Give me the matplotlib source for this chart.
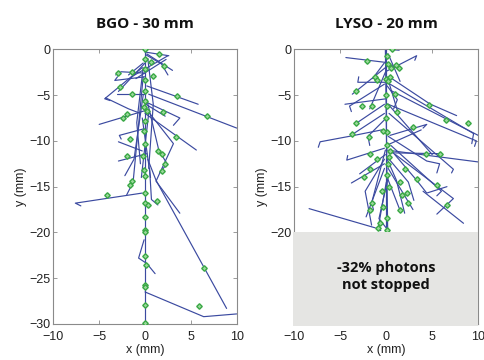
import matplotlib
matplotlib.use("Agg")
import matplotlib.pyplot as plt
from matplotlib.patches import Rectangle

# ---------------- data ----------------
titles = ["BGO - 30 mm", "LYSO - 20 mm"]
xticks = [-10, -5, 0, 5, 10]
bgo_yticks = [0, -5, -10, -15, -20, -25, -30]
lyso_yticks = [0, -5, -10, -15, -20]
note_text = "-32% photons\nnot stopped"

# BGO tracks (polylines, mm)
bgo_tracks_x = [
    [0, 0], [0, 2.6], [0.2, 3.0], [-1.3, 2.5], [-1.0, 2.3], [0.1, 1.8, 2.5],
    [0, -2.6, -3.2], [0, -3.3, -3.0], [-0.3, -4.4, -3.8], [-4.3, -1.8, -0.5],
    [0, -2.9], [-3.1, 0], [0.4, 10], [0.2, 5.8], [0.2, 3.8, 3.1], [0, 5.6],
    [0.2, 3.1, 1.2, 3.8], [0, -5.0], [-2.9, -0.3], [-2.9, 0.2],
    [-0.2, -1.3, -2.0], [0.3, 1.2, 8.9], [-0.3, -7.6, -7.0],
    [-0.1, -0.7, 0.2, 1.1], [0, 6.4, 10], [0.5, 0.7, 1.4],
    [0.2, 1.5, 2.4, 1.6], [-0.2, -1.2, -2.2], [-0.2, -2.8, -2.6], [0.1, 2.2],
    [-0.2, -1.8], [-0.3, 0.6], [0.4, -0.4], [0.3, 0.9, 0.4], [-0.2, -0.9, -0.5],
]
bgo_tracks_y = [
    [0, -30], [-0.3, -0.7], [-0.5, -2.3], [-2.9, -0.7], [-3.2, -1.1], [-0.6, -1.6, -2.8],
    [-2.6, -2.45, -2.8], [-3.0, -3.4, -3.0], [-2.0, -5.4, -5.6], [-5.3, -6.5, -7.0],
    [-1.5, -4.6], [-4.9, -4.9], [-4.9, -8.6], [-4.0, -6.0], [-5.8, -7.5, -8.3], [-7.0, -11.0],
    [-6.6, -10.3, -14.4, -17.9], [-6.7, -8.2], [-10.1, -11.1], [-12.2, -11.4],
    [-3.0, -14.5, -15.9], [-12.0, -14.3, -28.3], [-15.7, -16.8, -17.1],
    [-20.8, -22.8, -23.4, -24.5], [-26.5, -29.2, -28.9], [-13.0, -16.4, -17.0],
    [-5.5, -11.0, -12.5, -13.5], [-5.0, -12.0, -13.8], [-8.7, -9.4, -9.8], [-6.0, -7.3],
    [-1.5, -2.8], [-7.5, -14.0], [-7.0, -14.0], [-1.0, -6.0, -13.0], [-2.0, -8.0, -12.5],
]
bgo_dep_x = [0, 0, 0.05, 0, 0, 0.05, -0.1, 0.2, 0.05, -0.1, 0.05, -0.2, -0.1, 0,
             0, 0.05, 0, 0, 0, 0, 0.15, 0, 0, 0, 0,
             -1.45, 0.9, 2.1, -2.72, -1.45, 3.46, 2.0, 6.73, -1.99, -2.36, -1.63,
             3.39, 1.46, 1.82, -1.99, 2.19, 1.82, -1.45, -1.6, -4.1, 1.27, 0.37,
             6.48, 5.93, -3.0, 1.5, 0.6]
bgo_dep_y = [0, -1.05, -2.15, -3.4, -4.5, -5.6, -6.3, -6.7, -7.8, -8.9, -10.3, -11.6, -13.2, -13.8,
             -15.7, -16.8, -18.3, -19.7, -20.0, -22.6, -23.55, -25.7, -26.0, -27.9, -29.85,
             -2.5, -2.88, -1.8, -4.15, -4.88, -5.06, -6.9, -7.24, -7.06, -7.5, -9.79,
             -9.53, -11.07, -11.43, -11.6, -12.5, -13.25, -14.34, -14.8, -15.9, -16.6, -17.0,
             -23.84, -28.0, -2.6, -0.5, -1.4]

# LYSO tracks (polylines, mm)
lyso_tracks_x = [
    [0, 0], [-0.1, 0.15], [-4.4, -0.3], [0.3, 1.4], [0, 3.3, 3.1],
    [0.4, 4.75, 7.65], [0.4, 9.5, 9.3], [0.5, 10], [0.2, 9.8, 9.6],
    [0.4, 4.4, 4.0], [0, 3.8], [-7.4, -7.2, -4.0, -0.5], [-3.0, -3.1, 0],
    [-0.1, -3.7], [-0.2, -4.0, -3.8], [-4.5, 0], [-3.3, -0.2], [-3.7, -0.2],
    [0, -2.0, -1.8], [0.2, 5.0], [0.3, 7.3, 7.1], [0, 10], [0.2, 6.0],
    [0.2, 4.4, 5.8, 5.5], [0.5, 6.0, 5.5], [1.0, 7.3, 5.5], [4.0, 8.4],
    [0.5, 3.3, 4.4, 6.6], [-8.4, -1.2], [-0.2, -3.8], [-0.2, -2.2],
    [-0.1, -1.6, -1.4], [0, -0.9, -0.6], [0.1, 1.1, 2.0], [0.2, 2.9],
    [0.1, 1.5], [-0.2, -4.3, -4.2], [-0.1, -2.9], [0, -1.5], [0, 1.6],
    [0.2, 1.5], [-0.1, -1.8], [0.1, 1.3], [0.1, 1.2, 0.8], [0.3, 2.4, 3.0],
    [-0.2, -2.3, -1.6], [0.2, -0.8, 0.3],
]
lyso_tracks_y = [
    [0, -20], [0, -19.8], [-0.9, -1.4], [0.0, -0.1], [-2.4, -0.7, -1.2],
    [-3.06, -5.97, -7.24], [-3.8, -9.2, -10.3], [-4.5, -9.4], [-6.0, -10.0, -10.6],
    [-9.4, -8.2, -8.6], [-10.5, -8.8], [-10.7, -10.1, -9.5, -8.8], [-3.0, -3.6, -3.6],
    [-2.0, -4.9], [-3.8, -6.2, -6.8], [-6.0, -5.4], [-8.1, -6.0], [-9.3, -7.0],
    [-7.5, -9.5, -10.5], [-6.0, -11.5], [-7.0, -13.1, -13.5], [-11.0, -12.3], [-11.3, -11.4],
    [-9.5, -12.2, -12.5, -13.5], [-10.5, -15.5, -16.0], [-11.5, -16.3, -18.0], [-15.5, -19.0],
    [-11.0, -14.3, -15.7, -15.0], [-17.4, -19.5], [-12.5, -14.6], [-13.0, -18.3],
    [-11.0, -16.8, -17.5], [-14.5, -19.6, -19.8], [-12.0, -14.3, -17.9], [-13.0, -17.5],
    [-14.0, -17.6], [-10.8, -12.1, -11.6], [-11.5, -13.6], [-1.2, -3.2], [-1.5, -2.2],
    [-0.5, -3.5], [-2.5, -6.5], [-3.0, -7.0], [-4.0, -5.5, -6.5], [-12.0, -14.5, -16.5],
    [-12.0, -15.5, -19.2], [-14.0, -18.5, -19.9],
]
lyso_dep_x = [0.6, 0.1, 0.2, 0.5, 0, 0.2, 0.0, 0.1, 0.0, 0.1, 0.1, 0.4, 0.3, 0.2, 0.1,
              -2.14, 1.41, 1.02, -1.23, -1.0, 0.4, -3.3, 1.0, -2.68, -1.6, 1.12, 4.67,
              6.49, 8.9, 2.94, -3.3, -3.73, -1.85, -0.4, -1.05, -1.77, 4.31, 5.83,
              -1.77, 2.03, -2.43, 3.3, 1.49, -0.69, 0.04, -0.33, -1.6, -1.77, 1.49,
              2.39, 1.67, 2.2, 5.47, 6.56, -0.87, 0.04, -0.5, 0.3]
lyso_dep_y = [0.0, -0.7, -1.6, -2.0, -3.2, -3.5, -5.0, -6.2, -7.5, -9.0, -10.5, -11.06, -11.8, -12.5, -13.7,
              -1.24, -2.07, -1.72, -3.06, -3.3, -3.06, -4.51, -4.88, -6.15, -6.15, -6.88, -6.08,
              -7.72, -8.08, -8.44, -8.08, -9.24, -9.54, -8.9, -11.97, -11.43, -11.43, -11.43,
              -13.07, -13.07, -13.98, -14.16, -14.52, -19.0, -18.45, -17.2, -16.8, -17.55, -17.55,
              -16.8, -15.9, -15.7, -14.8, -17.0, -19.55, -19.73, -15.5, -15.0]

# ---------------- style ----------------
line_color = "#3b4aa0"
mk_face = "#9ad89a"
mk_edge = "#3aa845"
spine_color = "#8a8a8a"
box_color = "#e5e5e3"

plt.rcParams["font.family"] = ["Liberation Sans", "DejaVu Sans"]

fig = plt.figure(figsize=(4.85, 3.6), dpi=100)
ax1 = fig.add_axes([0.110, 0.100, 0.378, 0.763])
ax2 = fig.add_axes([0.607, 0.100, 0.379, 0.763])


def draw(ax, tx, ty, dx, dy, yticks, title):
    for xs, ys in zip(tx, ty):
        ax.plot(xs, ys, color=line_color, lw=0.85, solid_capstyle="round", zorder=2)
    ax.plot(dx, dy, linestyle="none", marker="D", ms=2.8, mfc=mk_face,
            mec=mk_edge, mew=1.0, zorder=3)
    ax.set_xlim(-10, 10)
    ax.set_ylim(-30, 0)
    ax.set_xticks(xticks)
    ax.set_yticks(yticks)
    ax.tick_params(direction="in", top=True, right=True, length=3,
                   width=0.6, color=spine_color, labelsize=9, labelcolor="#222222")
    ax.tick_params(axis="x", pad=5)
    ax.tick_params(axis="y", pad=2)
    for s in ax.spines.values():
        s.set_color(spine_color)
        s.set_linewidth(0.8)
    ax.set_xlabel("x (mm)", fontsize=9, labelpad=1, color="#222222")
    ax.set_ylabel("y (mm)", fontsize=9, labelpad=2, color="#222222")
    ax.set_title(title, fontsize=11, fontweight="bold", family=["Open Sans", "DejaVu Sans"],
                 pad=15, color="#111111")


draw(ax1, bgo_tracks_x, bgo_tracks_y, bgo_dep_x, bgo_dep_y, bgo_yticks, titles[0])
draw(ax2, lyso_tracks_x, lyso_tracks_y, lyso_dep_x, lyso_dep_y, lyso_yticks, titles[1])

ax2.add_patch(Rectangle((-10.1, -30.2), 20.1, 10.2, facecolor=box_color,
                        edgecolor="none", zorder=5, clip_on=False))
ax2.text(0, -24.8, note_text, ha="center", va="center", fontsize=10.5,
         fontweight="bold", family=["Open Sans", "DejaVu Sans"], color="#111111",
         linespacing=1.25, zorder=6)

fig.savefig("out.png", dpi=100)
